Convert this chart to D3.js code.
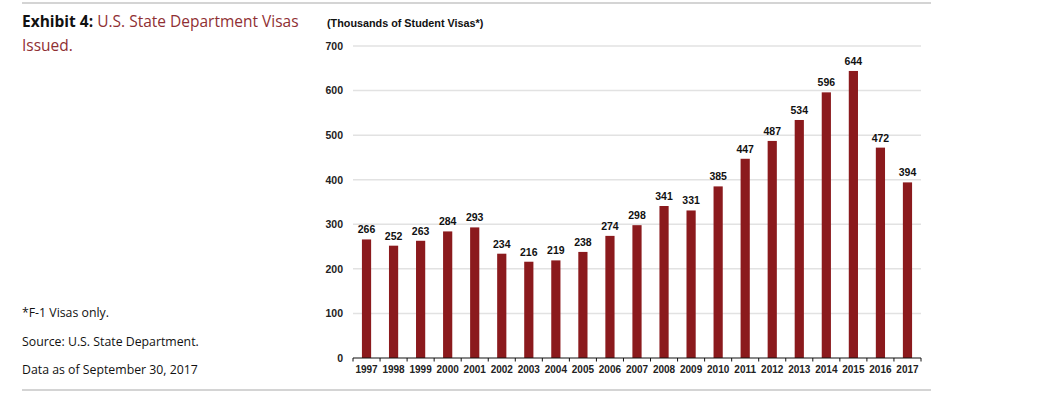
<!DOCTYPE html>
<html>
<head>
<meta charset="utf-8">
<script src="https://cdn.jsdelivr.net/npm/d3@7"></script>
<style>
  body { margin: 0; background: #fff; }
  svg { display: block; }
</style>
</head>
<body>
<svg id="chart" width="1062" height="399"></svg>
<script>
'use strict'

// values read from the exhibit, thousands of F-1 visas
const years = ['1997','1998','1999','2000','2001','2002','2003','2004','2005','2006','2007',
	'2008','2009','2010','2011','2012','2013','2014','2015','2016','2017']
const visas = [266, 252, 263, 284, 293, 234, 216, 219, 238, 274, 298,
	341, 331, 385, 447, 487, 534, 596, 644, 472, 394]
const yTicks = [0, 100, 200, 300, 400, 500, 600, 700]
const notes = ['*F-1 Visas only.', 'Source: U.S. State Department.', 'Data as of September 30, 2017']

const svg = d3.select('#chart')
const barColor = '#8b1a1d'
const textFont = "'Open Sans', 'Noto Sans', sans-serif"
const chartFont = "'Liberation Sans', Arial, sans-serif"

// frame rules
svg.append('line').attr('x1', 22).attr('x2', 931).attr('y1', 3).attr('y2', 3)
	.attr('stroke', '#d4d4d4').attr('stroke-width', 2)
svg.append('line').attr('x1', 22).attr('x2', 931).attr('y1', 390).attr('y2', 390)
	.attr('stroke', '#d4d4d4').attr('stroke-width', 2)

// title
let title = svg.append('text').attr('x', 22).attr('y', 27)
	.style('font-family', textFont).style('font-size', '15.5px')
title.append('tspan').attr('font-weight', 'bold').attr('fill', '#111').text('Exhibit 4: ')
title.append('tspan').attr('fill', '#8f2f33').text('U.S. State Department Visas')
svg.append('text').attr('x', 22).attr('y', 51)
	.style('font-family', textFont).style('font-size', '15.5px')
	.attr('fill', '#8f2f33').text('Issued.')

svg.selectAll('.note').data(notes).enter().append('text')
	.attr('class', 'note')
	.attr('x', 22)
	.attr('y', (d, i) => 317 + i * 28.5)
	.style('font-family', textFont).style('font-size', '12.3px')
	.attr('fill', '#111')
	.text(d => d)

svg.append('text').attr('x', 327).attr('y', 27)
	.style('font-family', chartFont).style('font-size', '10.8px').style('font-weight', 'bold')
	.attr('fill', '#111').text('(Thousands of Student Visas*)')

// scales
let x = d3.scaleBand().domain(years).range([353, 921]).paddingInner(0.66).paddingOuter(0.33)
let y = d3.scaleLinear().domain([0, 700]).range([358, 46])

// gridlines
svg.append('g').selectAll('line').data(yTicks.filter(d => d > 0)).enter().append('line')
	.attr('x1', 353).attr('x2', 921)
	.attr('y1', d => y(d)).attr('y2', d => y(d))
	.attr('stroke', '#e2e2e2').attr('stroke-width', 1.5)

// y axis labels (no axis line)
let yAxis = svg.append('g').attr('transform', 'translate(343,0)')
	.call(d3.axisLeft(y).tickValues(yTicks).tickSize(0).tickPadding(0))
yAxis.select('.domain').remove()
yAxis.selectAll('text').style('font-family', chartFont).style('font-size', '10.5px')
	.style('font-weight', 'bold').attr('fill', '#222')

// bars
svg.append('g').selectAll('rect').data(visas).enter().append('rect')
	.attr('x', (d, i) => x(years[i]))
	.attr('width', x.bandwidth())
	.attr('y', d => y(d))
	.attr('height', d => y(0) - y(d))
	.attr('fill', barColor)

// value labels
svg.append('g').selectAll('text').data(visas).enter().append('text')
	.attr('x', (d, i) => x(years[i]) + x.bandwidth() / 2)
	.attr('y', d => y(d) - 6)
	.attr('text-anchor', 'middle')
	.style('font-family', chartFont).style('font-size', '10.5px').style('font-weight', 'bold')
	.attr('fill', '#111')
	.text(d => d)

// x axis with ticks on category boundaries
let xAxis = svg.append('g').attr('transform', 'translate(0,' + y(0) + ')')
xAxis.append('line').attr('x1', 353).attr('x2', 921).attr('stroke', '#111').attr('stroke-width', 1.2)
let step = x.step()
let bounds = d3.range(years.length + 1).map(i => 353 + i * step)
xAxis.selectAll('.tk').data(bounds).enter().append('line')
	.attr('class', 'tk')
	.attr('x1', d => d).attr('x2', d => d).attr('y1', 0).attr('y2', 3.5)
	.attr('stroke', '#111').attr('stroke-width', 1)
xAxis.selectAll('.yr').data(years).enter().append('text')
	.attr('class', 'yr')
	.attr('x', d => x(d) + x.bandwidth() / 2)
	.attr('y', 15)
	.attr('text-anchor', 'middle')
	.style('font-family', chartFont).style('font-size', '10px').style('font-weight', 'bold')
	.attr('fill', '#222')
	.text(d => d)
</script>
</body>
</html>
